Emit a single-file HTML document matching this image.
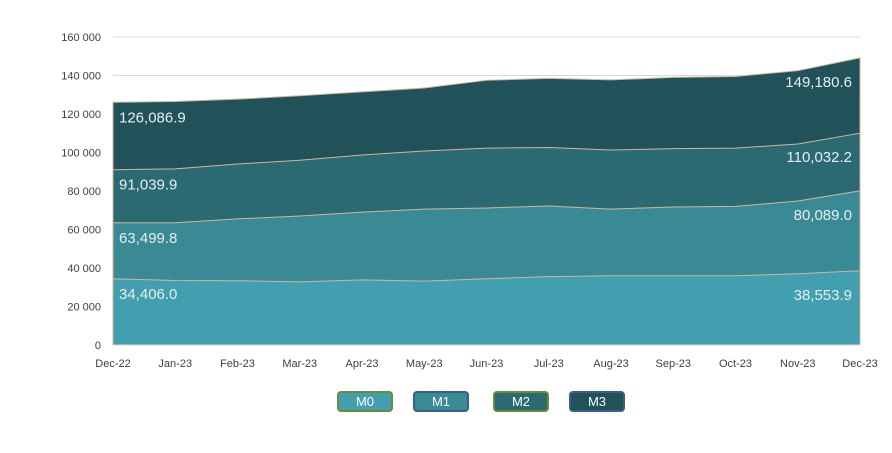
<!DOCTYPE html>
<html><head><meta charset="utf-8"><style>
body{margin:0;background:#fff;font-family:"Liberation Sans",sans-serif}
svg text{font-family:"Liberation Sans",sans-serif}
</style></head><body>
<svg id="c" width="892" height="448"></svg>
<script>
const categories=["Dec-22","Jan-23","Feb-23","Mar-23","Apr-23","May-23","Jun-23","Jul-23","Aug-23","Sep-23","Oct-23","Nov-23","Dec-23"];
const m0=[34406.0,33500,33400,32800,33800,33200,34400,35500,36000,36000,36000,37000,38553.9];
const m1=[63499.8,63500,65500,67000,69000,70600,71200,72200,70600,71700,72000,74800,80089.0];
const m2=[91039.9,91500,94000,96000,98700,100800,102300,102600,101300,102000,102300,104400,110032.2];
const m3=[126086.9,126500,127700,129500,131500,133500,137500,138500,137700,139000,139500,142500,149180.6];
const yTicks=[0,20000,40000,60000,80000,100000,120000,140000,160000];
const seriesNames=["M0","M1","M2","M3"];
const series=[m0,m1,m2,m3];
const colors=["#429faf","#3a8a96","#2b6a73","#215159"];
const legendBorders=["#6b8a3a","#3a5f8a","#6b8a3a","#3a5f8a"];
const NS="http://www.w3.org/2000/svg";
const svg=document.getElementById('c');
const x0=113,x1=860,yb=345,yt=37,ymax=160000;
const X=i=>x0+(x1-x0)*i/(categories.length-1);
const Y=v=>yb-(yb-yt)*v/ymax;
const fmt=v=>v.toLocaleString('en-US',{minimumFractionDigits:1,maximumFractionDigits:1});
function mk(t,a){const e=document.createElementNS(NS,t);for(const k in a)e.setAttribute(k,a[k]);svg.appendChild(e);return e;}
yTicks.forEach(t=>{
  if(t>0){const g=mk('line',{x1:x0,x2:x1,y1:Y(t),y2:Y(t),stroke:'#d9d9d9','stroke-width':1});
  
  }
  const l=mk('text',{x:x0-12,y:Y(t)+4,'text-anchor':'end','font-size':11,fill:'#404040'});
  l.textContent=t===0?'0':(t/1000)+' 000';
  
  
});
for(let s=series.length-1;s>=0;s--){
  const top=series[s];
  let d='M'+X(0)+','+yb;
  top.forEach((v,i)=>d+=' L'+X(i)+','+Y(v));
  d+=' L'+X(top.length-1)+','+yb+' Z';
  const p=mk('path',{d:d,fill:colors[s],stroke:'#d4b59a','stroke-width':1});
  
  
}
mk('line',{x1:x0,x2:x1,y1:yb,y2:yb,stroke:'#d9d9d9'});
categories.forEach((c,i)=>{
  const t=mk('text',{x:X(i),y:yb+22,'text-anchor':'middle','font-size':11,fill:'#404040'});
  t.textContent=c;
  
  
});
series.forEach((s,k)=>{
  const n=s.length-1;
  const a=mk('text',{x:x0+6,y:Y(s[0])+20,'font-size':15,fill:'#e6eef0'});
  a.textContent=fmt(s[0]);
  
  
  const b=mk('text',{x:x1-8,y:Y(s[n])+29,'text-anchor':'end','font-size':15,fill:'#e6eef0'});
  b.textContent=fmt(s[n]);
  
  
});
const lx=[338,414,494,570];
seriesNames.forEach((n,i)=>{
  const r=mk('rect',{x:lx[i],y:392,width:54,height:19,rx:3,fill:colors[i],stroke:legendBorders[i],'stroke-width':2});
  
  
  const t=mk('text',{x:lx[i]+27,y:406,'text-anchor':'middle','font-size':13,fill:'#fff'});
  t.textContent=n;
  
  
});
</script>
</body></html>
